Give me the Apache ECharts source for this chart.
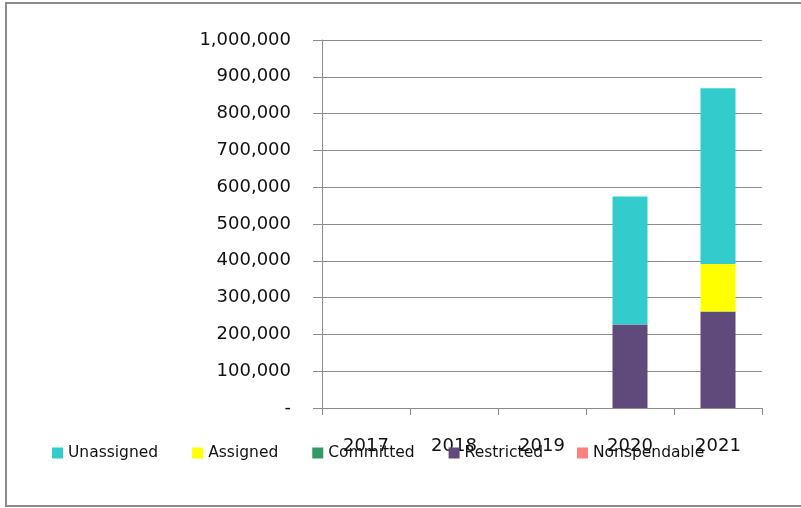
<!DOCTYPE html>
<html>
<head>
<meta charset="utf-8">
<script src="https://cdn.jsdelivr.net/npm/echarts@6/dist/echarts.min.js"></script>
<style>
  html, body { margin: 0; padding: 0; background: #fff; }
  #chart { width: 801px; height: 508px; }
</style>
</head>
<body>
<div id="chart"></div>
<script>
var years = ['2017', '2018', '2019', '2020', '2021'];
var unassigned = [0, 0, 0, 348000, 478000];
var assigned = [0, 0, 0, 0, 129000];
var committed = [0, 0, 0, 0, 0];
var restricted = [0, 0, 0, 227000, 262000];
var nonspendable = [0, 0, 0, 0, 0];
var legendOrder = ['Unassigned', 'Assigned', 'Committed', 'Restricted', 'Nonspendable'];

var font = 'DejaVu Sans';

function bar(name, data, color) {
    return {
        name: name,
        type: 'bar',
        stack: 'total',
        data: data,
        barWidth: 35,
        itemStyle: { color: color },
        emphasis: { disabled: true }
    };
}

var chart = echarts.init(document.getElementById('chart'));
chart.setOption({
    animation: false,
    graphic: [{
        type: 'rect',
        shape: { x: 6, y: 3, width: 800, height: 503 },
        style: { fill: 'none', stroke: '#8c8c8c', lineWidth: 2 },
        silent: true
    }],
    grid: { left: 322, right: 39, top: 40, bottom: 100 },
    legend: {
        data: legendOrder,
        left: 52,
        top: 445,
        padding: 0,
        itemWidth: 11,
        itemHeight: 11,
        itemGap: 34,
        icon: 'rect',
        textStyle: { fontFamily: font, fontSize: 15.5, color: '#111', lineHeight: 16 }
    },
    xAxis: {
        type: 'category',
        data: years,
        axisLine: { lineStyle: { color: '#8c8c8c', width: 1 } },
        axisTick: { show: true, length: 7, alignWithLabel: false, lineStyle: { color: '#8c8c8c' } },
        axisLabel: { fontFamily: font, fontSize: 18, color: '#111', margin: 29 }
    },
    yAxis: {
        type: 'value',
        min: 0,
        max: 1000000,
        interval: 100000,
        axisLine: { show: true, lineStyle: { color: '#8c8c8c', width: 1 } },
        axisTick: { show: true, length: 9, lineStyle: { color: '#8c8c8c' } },
        splitLine: { lineStyle: { color: '#8c8c8c', width: 1 } },
        axisLabel: {
            fontFamily: font,
            fontSize: 18,
            color: '#111',
            margin: 31,
            formatter: function (v) {
                return v === 0 ? '-' : v.toLocaleString('en-US');
            }
        }
    },
    series: [
        bar('Nonspendable', nonspendable, '#ff8080'),
        bar('Restricted', restricted, '#604a7b'),
        bar('Committed', committed, '#339966'),
        bar('Assigned', assigned, '#ffff00'),
        bar('Unassigned', unassigned, '#33cccc')
    ]
});
</script>
</body>
</html>
